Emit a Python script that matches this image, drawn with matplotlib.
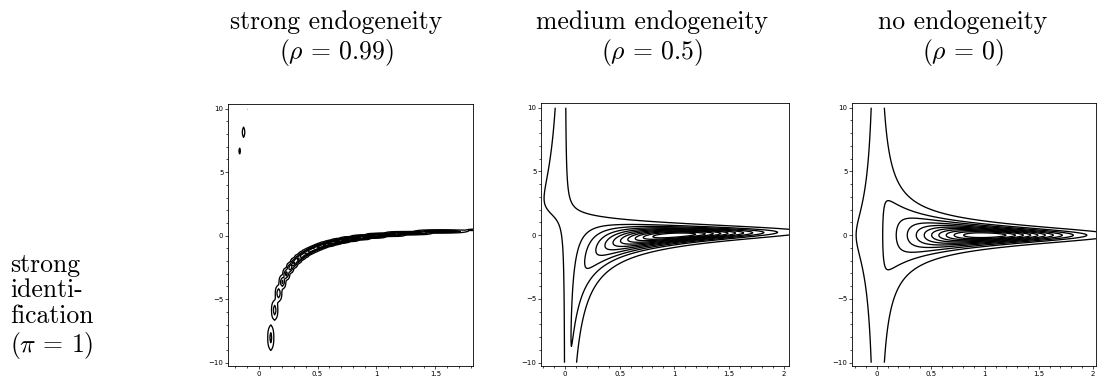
import numpy as np
import matplotlib.pyplot as plt
from matplotlib.ticker import MultipleLocator

plt.rcParams['mathtext.fontset'] = 'cm'
plt.rcParams['axes.unicode_minus'] = True

# column headers and row label
titles = ["strong endogeneity", "medium endogeneity", "no endogeneity"]
rho_labels = [r"$(\rho\,=\,0.99)$", r"$(\rho\,=\,0.5)$", r"$(\rho\,=\,0)$"]
row_label = "strong\nidenti-\nfication\n" + r"$(\pi\,=\,1)$"

# model parameters for each panel
rho_values = [0.99, 0.5, 0.0]
pi_true = 1.0
beta_true = 0.0
sd_pi = 0.45
sd_beta = 0.42

# contour levels as fractions of the maximum
level_fracs = [0.03, 0.11, 0.19, 0.28, 0.37, 0.46, 0.55, 0.64, 0.73, 0.82, 0.91]

# plotting ranges and evaluation grid sizes
x_ranges = [(-0.26, 1.82), (-0.22, 2.05), (-0.23, 2.03)]
y_range = (-10.26, 10.37)
grid_sizes = [(64, 150), (400, 800), (400, 800)]
x_ticks = [[0, 0.5, 1, 1.5], [0, 0.5, 1, 1.5, 2], [0, 0.5, 1, 1.5, 2]]
x_ticklabels = [["0", "0.5", "1", "1.5"], ["0", "0.5", "1", "1.5", "2"], ["0", "0.5", "1", "1.5", "2"]]
y_ticks = [-10, -5, 0, 5, 10]


def surface(x, y, rho):
    a = (x - pi_true) / sd_pi
    b = x * (y - beta_true) / sd_beta
    q = (a * a - 2 * rho * a * b + b * b) / (2 * (1 - rho ** 2))
    return np.exp(-q)


W, H = 1098, 376
fig = plt.figure(figsize=(W / 100, H / 100), dpi=100)

# axes boxes in pixels: left, top, right, bottom
boxes = [(228, 104, 473, 366), (541, 103, 789, 366), (852, 103, 1096, 366)]
title_x = [336, 652, 963]

for i in range(3):
    l, t, r, b = boxes[i]
    ax = fig.add_axes([l / W, 1 - b / H, (r - l) / W, (b - t) / H])
    nx, ny = grid_sizes[i]
    x = np.linspace(x_ranges[i][0], x_ranges[i][1], nx)
    y = np.linspace(-10, 10, ny)
    X, Y = np.meshgrid(x, y)
    Z = surface(X, Y, rho_values[i])
    ax.contour(X, Y, Z, levels=[f * Z.max() for f in level_fracs],
               colors='black', linewidths=0.95)
    ax.set_xlim(*x_ranges[i])
    ax.set_ylim(*y_range)
    ax.set_xticks(x_ticks[i])
    ax.set_xticklabels(x_ticklabels[i])
    ax.set_yticks(y_ticks)
    ax.xaxis.set_minor_locator(MultipleLocator(0.1))
    ax.yaxis.set_minor_locator(MultipleLocator(1))
    ax.tick_params(which='both', direction='out', labelsize=5, width=0.5, pad=0.8)
    ax.tick_params(which='major', length=2.5)
    ax.tick_params(which='minor', length=1.5)
    for sp in ax.spines.values():
        sp.set_linewidth(0.6)

    fig.text(title_x[i] / W, 1 - 22 / H, titles[i], family='cmr10', fontsize=18.5,
             ha='center', va='center')
    fig.text(title_x[i] / W, 1 - 53 / H, rho_labels[i], fontsize=18.5,
             ha='center', va='center')

fig.text(10 / W, 1 - 307 / H, row_label, family='cmr10', fontsize=18.5,
         ha='left', va='center', linespacing=1.1)

fig.savefig('out.png', dpi=100)
